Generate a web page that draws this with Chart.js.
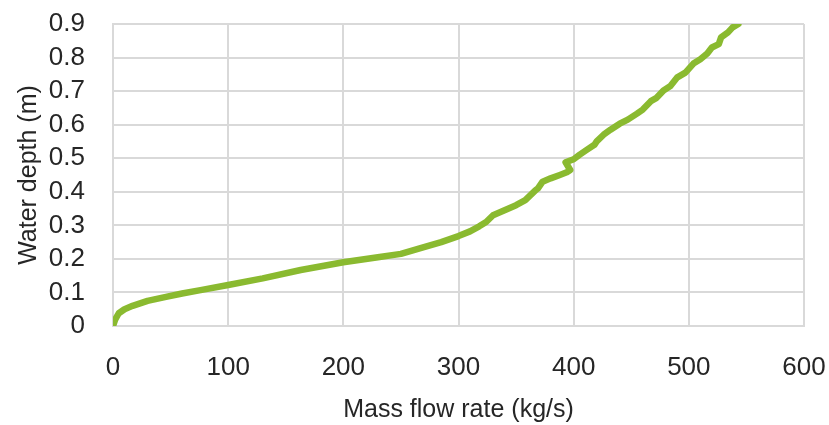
<!DOCTYPE html>
<html>
<head>
<meta charset="utf-8">
<script src="https://cdn.jsdelivr.net/npm/chart.js@4"></script>
<style>
  html, body { margin: 0; padding: 0; background: #fff; }
  #grafico { display: block; }
</style>
</head>
<body>
<canvas id="grafico" width="829" height="425"></canvas>
<script>
// Datos
const caudal = [0, 2, 5, 10, 17, 30, 46, 60, 76, 100, 130, 163, 200, 230, 250, 270, 285, 300, 310, 318, 324, 330, 340, 350, 358, 367, 369, 373, 380, 388, 394, 397, 393, 400, 405, 411, 418, 420, 426, 432, 440, 447, 455, 460, 467, 472, 478, 484, 490, 497, 504, 510, 516, 520, 526, 528, 534, 538, 543];
const profundidad = [0, 0.02, 0.038, 0.05, 0.06, 0.075, 0.087, 0.097, 0.107, 0.122, 0.142, 0.167, 0.19, 0.205, 0.215, 0.235, 0.25, 0.268, 0.282, 0.297, 0.31, 0.33, 0.345, 0.36, 0.375, 0.405, 0.41, 0.43, 0.44, 0.45, 0.458, 0.465, 0.488, 0.497, 0.51, 0.524, 0.54, 0.55, 0.57, 0.585, 0.603, 0.615, 0.633, 0.645, 0.67, 0.68, 0.702, 0.715, 0.741, 0.755, 0.782, 0.795, 0.812, 0.83, 0.84, 0.86, 0.875, 0.89, 0.9];
const ticksX = [0, 100, 200, 300, 400, 500, 600];
const ticksY = [0, 0.1, 0.2, 0.3, 0.4, 0.5, 0.6, 0.7, 0.8, 0.9];

const fuente = "'Liberation Sans', Arial, sans-serif";
const colorTexto = '#262626';
const colorRejilla = '#d9d9d9';

const puntos = caudal.map((x, i) => ({ x: x, y: profundidad[i] }));

new Chart(document.getElementById('grafico'), {
    type: 'scatter',
    data: {
        datasets: [{
            data: puntos,
            showLine: true,
            borderColor: '#8aba30',
            borderWidth: 6.5,
            pointRadius: 0,
            tension: 0,
            borderCapStyle: 'round',
            borderJoinStyle: 'round'
        }]
    },
    options: {
        responsive: false,
        animation: false,
        layout: { padding: { top: 24, right: 25, left: 0, bottom: 0 } },
        plugins: { legend: { display: false }, tooltip: { enabled: false } },
        scales: {
            x: {
                type: 'linear',
                min: 0,
                max: 600,
                afterBuildTicks: (eje) => { eje.ticks = ticksX.map(v => ({ value: v })); },
                afterFit: (eje) => {
                    eje.height = 99;
                    eje.paddingLeft = 0;
                    eje.paddingRight = 0;
                },
                grid: { color: colorRejilla, lineWidth: 2, drawTicks: false },
                border: { color: colorRejilla, width: 2 },
                ticks: { autoSkip: false, maxRotation: 0, padding: 26, color: colorTexto, font: { family: fuente, size: 26 } },
                title: {
                    display: true,
                    text: 'Mass flow rate (kg/s)',
                    color: colorTexto,
                    font: { family: fuente, size: 25 },
                    padding: { top: 4, bottom: 0 }
                }
            },
            y: {
                type: 'linear',
                min: 0,
                max: 0.9,
                afterBuildTicks: (eje) => { eje.ticks = ticksY.map(v => ({ value: v })); },
                afterFit: (eje) => {
                    eje.width = 113;
                    eje.paddingTop = 0;
                    eje.paddingBottom = 0;
                },
                grid: { color: colorRejilla, lineWidth: 2, drawTicks: false },
                border: { color: colorRejilla, width: 2 },
                ticks: {
                    autoSkip: false,
                    padding: 28,
                    color: colorTexto,
                    font: { family: fuente, size: 26 },
                    callback: (v) => (Math.round(v * 10) / 10).toString()
                },
                title: {
                    display: true,
                    text: 'Water depth (m)',
                    color: colorTexto,
                    font: { family: fuente, size: 25 },
                    padding: { top: 14, bottom: 0 }
                }
            }
        }
    }
});
</script>
</body>
</html>
